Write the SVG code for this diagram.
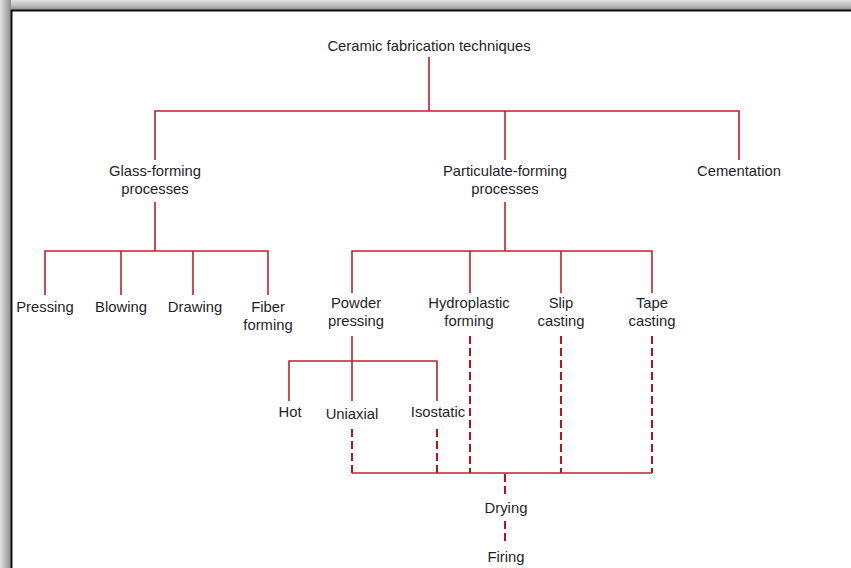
<svg xmlns="http://www.w3.org/2000/svg" width="851" height="568" viewBox="0 0 851 568">
<defs>
<linearGradient id="shL" x1="0" y1="0" x2="1" y2="0">
<stop offset="0" stop-color="#e2e2e2"/><stop offset="0.6" stop-color="#b0b0b0"/><stop offset="1" stop-color="#8c8c8c"/>
</linearGradient>
<linearGradient id="shT" x1="0" y1="0" x2="0" y2="1">
<stop offset="0" stop-color="#e2e2e2"/><stop offset="0.6" stop-color="#b8b8b8"/><stop offset="1" stop-color="#909090"/>
</linearGradient>
<style>
text{font-family:"Liberation Sans",Arial,sans-serif;font-size:14.8px;fill:#1e1e2c;text-anchor:middle}
.s{stroke:#c01f30;stroke-width:1.6;fill:none}
.d{stroke:#b8101f;stroke-width:2;fill:none;stroke-dasharray:8 4}
</style>
</defs>
<rect x="0" y="0" width="851" height="568" fill="#fff"/>
<g id="frame">
<rect x="0" y="0" width="851" height="10" fill="url(#shT)"/>
<rect x="0" y="0" width="11" height="568" fill="url(#shL)"/>
<path d="M11.5 568 V10.5 H851" stroke="#111" stroke-width="2" fill="none"/>
</g>
<g id="connectors">
<path class="s" d="M429 57 V111 M155 160 V111 H739 V160 M505 111 V160"/>
<path class="s" d="M155 202 V251 M45 295 V251 H268 V295 M121 251 V295 M193 251 V295"/>
<path class="s" d="M505 202 V251 M352 293 V251 H652 V293 M470 251 V293 M561 251 V293"/>
<path class="s" d="M352 336 V401 M289 401 V361 H437 V401"/>
<path class="d" d="M352 429 V473 M437 429 V473 M470 336 V473 M561 336 V473 M652 336 V473"/>
<path class="s" d="M352 473 H652"/>
<path class="d" d="M505 474 V497 M505 521 V545"/>
</g>
<g id="n-root"><text x="429" y="51">Ceramic fabrication techniques</text></g>
<g id="n-glass"><text x="155" y="176">Glass-forming</text><text x="155" y="194">processes</text></g>
<g id="n-particulate"><text x="505" y="176">Particulate-forming</text><text x="505" y="194">processes</text></g>
<g id="n-cementation"><text x="739" y="176">Cementation</text></g>
<g id="n-pressing"><text x="45" y="312">Pressing</text></g>
<g id="n-blowing"><text x="121" y="312">Blowing</text></g>
<g id="n-drawing"><text x="195" y="312">Drawing</text></g>
<g id="n-fiber"><text x="268" y="312">Fiber</text><text x="268" y="330">forming</text></g>
<g id="n-powder"><text x="356" y="308">Powder</text><text x="356" y="326">pressing</text></g>
<g id="n-hydroplastic"><text x="469" y="308">Hydroplastic</text><text x="469" y="326">forming</text></g>
<g id="n-slip"><text x="561" y="308">Slip</text><text x="561" y="326">casting</text></g>
<g id="n-tape"><text x="652" y="308">Tape</text><text x="652" y="326">casting</text></g>
<g id="n-hot"><text x="290" y="417">Hot</text></g>
<g id="n-uniaxial"><text x="352" y="419">Uniaxial</text></g>
<g id="n-isostatic"><text x="438" y="417">Isostatic</text></g>
<g id="n-drying"><text x="506" y="513">Drying</text></g>
<g id="n-firing"><text x="506" y="562">Firing</text></g>
</svg>
